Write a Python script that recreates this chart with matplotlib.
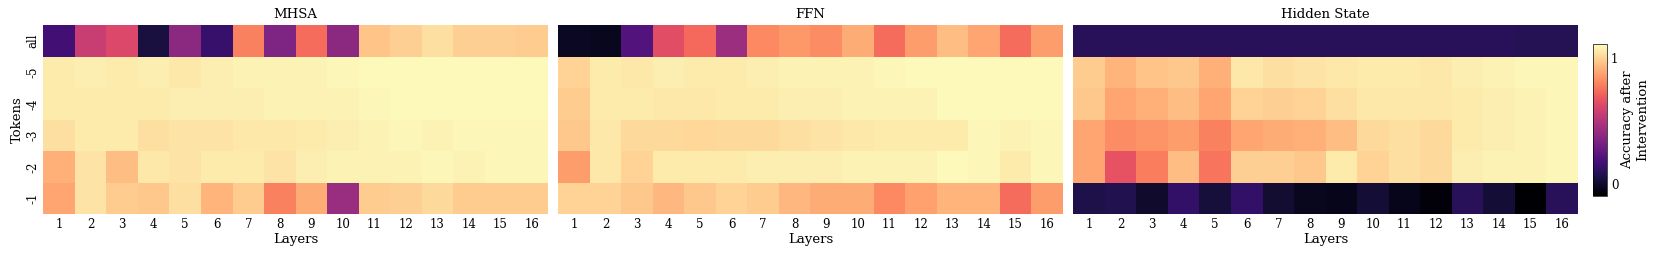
import matplotlib
matplotlib.use("Agg")
import matplotlib.pyplot as plt
import numpy as np

plt.rcParams['font.family'] = ['DejaVu Serif']

# rows top to bottom, columns = layers 1..16
tokens = ['all', '-5', '-4', '-3', '-2', '-1']
layers = [str(i) for i in range(1, 17)]

mhsa = [
    [0.16, 0.56, 0.62, 0.04, 0.38, 0.13, 0.79, 0.34, 0.74, 0.38, 0.96, 0.99, 1.03, 0.99, 0.99, 0.98],
    [1.06, 1.07, 1.06, 1.07, 1.05, 1.07, 1.08, 1.08, 1.08, 1.09, 1.10, 1.10, 1.10, 1.10, 1.10, 1.10],
    [1.06, 1.06, 1.06, 1.06, 1.07, 1.07, 1.07, 1.08, 1.08, 1.08, 1.09, 1.10, 1.10, 1.10, 1.10, 1.10],
    [1.03, 1.06, 1.06, 1.03, 1.04, 1.04, 1.05, 1.05, 1.06, 1.07, 1.08, 1.09, 1.08, 1.09, 1.09, 1.09],
    [0.91, 1.04, 0.94, 1.05, 1.04, 1.06, 1.06, 1.04, 1.07, 1.08, 1.08, 1.08, 1.09, 1.08, 1.09, 1.09],
    [0.88, 1.04, 0.98, 0.97, 1.03, 0.92, 0.98, 0.79, 0.90, 0.42, 0.98, 0.99, 1.02, 0.98, 0.98, 0.98],
]

ffn = [
    [-0.02, -0.03, 0.21, 0.64, 0.73, 0.43, 0.81, 0.85, 0.82, 0.90, 0.74, 0.86, 0.94, 0.88, 0.74, 0.86],
    [1.00, 1.06, 1.05, 1.07, 1.06, 1.06, 1.07, 1.08, 1.08, 1.08, 1.09, 1.10, 1.10, 1.10, 1.10, 1.10],
    [0.98, 1.06, 1.06, 1.05, 1.05, 1.06, 1.06, 1.07, 1.07, 1.08, 1.08, 1.08, 1.10, 1.10, 1.10, 1.10],
    [0.97, 1.05, 1.02, 1.02, 1.01, 1.02, 1.02, 1.03, 1.04, 1.05, 1.06, 1.06, 1.06, 1.09, 1.08, 1.09],
    [0.86, 1.05, 1.00, 1.06, 1.06, 1.06, 1.07, 1.07, 1.07, 1.08, 1.08, 1.08, 1.10, 1.09, 1.06, 1.09],
    [1.00, 1.00, 0.97, 0.93, 0.97, 1.00, 0.98, 0.93, 0.90, 0.90, 0.81, 0.87, 0.92, 0.92, 0.74, 0.86],
]

hidden = [
    [0.09, 0.09, 0.09, 0.09, 0.09, 0.09, 0.09, 0.09, 0.09, 0.09, 0.09, 0.09, 0.09, 0.09, 0.08, 0.08],
    [0.98, 0.92, 0.96, 0.97, 0.91, 1.05, 1.03, 1.04, 1.05, 1.06, 1.06, 1.05, 1.07, 1.08, 1.09, 1.09],
    [0.97, 0.88, 0.91, 0.94, 0.88, 1.00, 0.99, 1.00, 1.03, 1.05, 1.05, 1.05, 1.06, 1.07, 1.08, 1.09],
    [0.88, 0.82, 0.84, 0.86, 0.79, 0.88, 0.90, 0.91, 0.94, 1.02, 1.03, 1.02, 1.06, 1.07, 1.08, 1.09],
    [0.88, 0.66, 0.78, 0.94, 0.76, 0.99, 0.99, 0.97, 1.06, 1.00, 1.03, 1.02, 1.07, 1.08, 1.08, 1.09],
    [0.06, 0.07, 0.00, 0.12, 0.03, 0.12, 0.01, -0.03, -0.04, 0.02, -0.04, -0.08, 0.09, 0.02, -0.10, 0.09],
]

titles = ['MHSA', 'FFN', 'Hidden State']
panels = [mhsa, ffn, hidden]

fig = plt.figure(figsize=(16.61, 2.56), dpi=100)
lefts = [0.0261, 0.3361, 0.6462]
vmin, vmax = -0.1, 1.11

for i, (data, title) in enumerate(zip(panels, titles)):
    ax = fig.add_axes([lefts[i], 0.163, 0.3037, 0.738])
    arr = np.array(data)
    mesh = ax.pcolormesh(arr, cmap='magma', vmin=vmin, vmax=vmax)
    ax.set_xlim(0, arr.shape[1])
    ax.set_ylim(arr.shape[0], 0)
    ax.set_xticks(np.arange(arr.shape[1]) + 0.5)
    ax.set_xticklabels(layers, fontsize=8.5)
    ax.set_yticks(np.arange(arr.shape[0]) + 0.5)
    if i == 0:
        ax.set_yticklabels(tokens, fontsize=8.5, rotation=90, va='center')
        ax.set_ylabel('Tokens', fontsize=9.5, labelpad=2)
    else:
        ax.set_yticklabels([])
    ax.tick_params(length=0, pad=3)
    ax.set_xlabel('Layers', fontsize=9.5, labelpad=1)
    ax.set_title(title, fontsize=9.5, pad=5)
    for s in ax.spines.values():
        s.set_visible(False)

cax = fig.add_axes([0.959, 0.234, 0.00843, 0.594])
cb = fig.colorbar(mesh, cax=cax, ticks=[0, 1])
cb.ax.tick_params(labelsize=8.5, length=0, pad=3)
cb.outline.set_linewidth(0.5)
cb.set_label('Accuracy after\nIntervention', fontsize=9.5, labelpad=2)

fig.savefig('out.png', dpi=100)
